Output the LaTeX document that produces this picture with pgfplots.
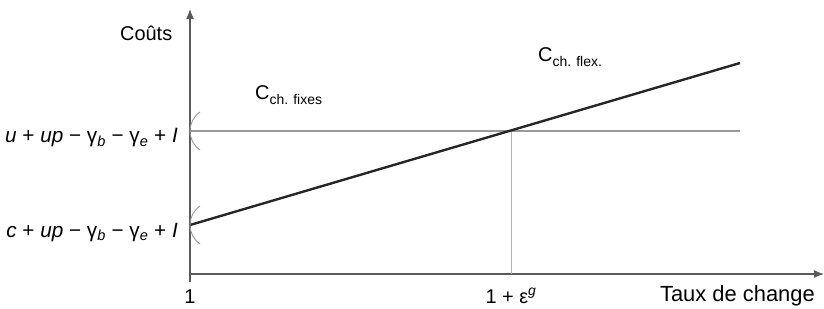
\documentclass[border=0pt]{standalone}
\usepackage{fontspec}
\setmainfont{Liberation Sans}
\usepackage{pgfplots}
\pgfplotsset{compat=1.18}
\usetikzlibrary{arrows.meta}
\definecolor{axgray}{gray}{0.35}
\definecolor{hgray}{gray}{0.6}
\definecolor{vgray}{gray}{0.7}
\newcommand{\bigf}{\fontsize{20}{24}\selectfont}
\newcommand{\midf}{\fontsize{20.8}{24}\selectfont}
\newcommand{\taxf}{\fontsize{22}{26}\selectfont}
\newcommand{\subf}{\fontsize{14}{16}\selectfont}
\begin{document}
\begin{tikzpicture}[x=1bp,y=1bp]
\path[use as bounding box] (0,0) rectangle (824,308);
\begin{axis}[
  at={(190bp,34bp)}, anchor=origin,
  width=633bp, height=264bp, scale only axis,
  xmin=0, xmax=633, ymin=0, ymax=264,
  axis lines=none, clip=false,
]
% axes
\draw[axgray, line width=1.3bp, -{Latex[length=10bp,width=8bp]}] (axis cs:0,-8) -- (axis cs:0,265);
\draw[axgray, line width=1.3bp, -{Latex[length=10bp,width=8bp]}] (axis cs:0,0) -- (axis cs:634,0);
% vertical guide
\addplot[vgray, line width=0.8bp, no marks] coordinates {(321,0) (321,143)};
% fixed cost
\addplot[hgray, line width=2bp, no marks] coordinates {(0,143) (550,143)};
% flexible cost
\addplot[black!85, line width=2.4bp, no marks] coordinates {(0,49) (550,211)};
% bracket marks
\draw[hgray, line width=0.9bp] (axis cs:10,162) to[bend right=25] (axis cs:0,143) to[bend right=25] (axis cs:10,124);
\draw[hgray, line width=0.9bp] (axis cs:10,68) to[bend right=25] (axis cs:0,49) to[bend right=25] (axis cs:10,30);
% labels
\node[font=\bigf, inner sep=0pt, anchor=base west] at (axis cs:-70,233) {Coûts};
\node[font=\midf, inner sep=0pt, anchor=base east] at (axis cs:-12,131) {\textit{u} + \textit{up} − γ\textsubscript{\textit{b}} − γ\textsubscript{\textit{e}} + \textit{I}};
\node[font=\midf, inner sep=0pt, anchor=base east] at (axis cs:-12,37) {\textit{c} + \textit{up} − γ\textsubscript{\textit{b}} − γ\textsubscript{\textit{e}} + \textit{I}};
\node[font=\bigf, inner sep=0pt, anchor=base] at (axis cs:0,-29) {1};
\node[font=\bigf, inner sep=0pt, anchor=base] at (axis cs:321,-29) {1 + ε\textsuperscript{\textit{g}}};
\node[font=\taxf, inner sep=0pt, anchor=base east] at (axis cs:625,-27) {Taux de change};
\node[font=\bigf, inner sep=0pt, anchor=base west] at (axis cs:65,174) {C\raisebox{-5bp}{\subf ch. fixes}};
\node[font=\bigf, inner sep=0pt, anchor=base west] at (axis cs:348,212) {C\raisebox{-5bp}{\subf ch. flex.}};
\end{axis}
\end{tikzpicture}
\end{document}
